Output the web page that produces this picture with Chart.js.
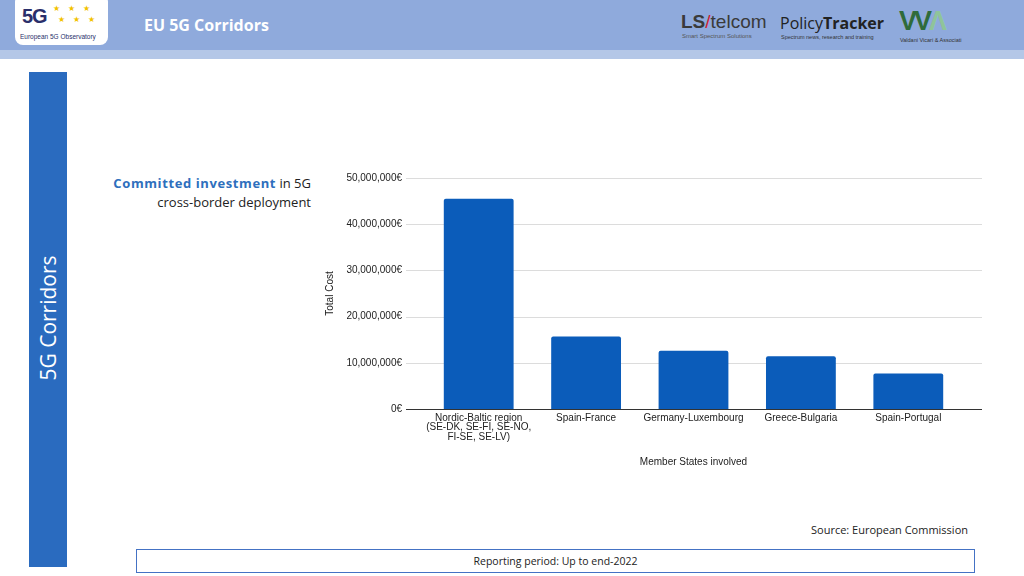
<!DOCTYPE html>
<html>
<head>
<meta charset="utf-8">
<script src="https://cdn.jsdelivr.net/npm/chart.js@4/dist/chart.umd.min.js"></script>
<style>
  body { margin: 0; width: 1024px; height: 576px; position: relative; overflow: hidden; background: #fff; font-family: "Open Sans", "Liberation Sans", sans-serif; }
  .abs { position: absolute; }
  #header { left: 0; top: 0; width: 1024px; height: 50px; background: #8faadc; }
  #strip { left: 0; top: 50px; width: 1024px; height: 9px; background: #b4c7e7; }
  #logo { left: 15px; top: -6px; width: 93px; height: 51px; background: #fff; border-radius: 8px; }
  #logo .g5 { position: absolute; left: 7px; top: 11px; font: bold 20px "Liberation Sans", sans-serif; color: #2a2f6b; letter-spacing: -1px; }
  #logo .stars { position: absolute; left: 38px; top: 8px; font-size: 8px; color: #f2c200; letter-spacing: 3px; }
  #logo .sub { position: absolute; left: 5px; top: 39px; font: 6.5px "Liberation Sans", sans-serif; color: #2a2f6b; white-space: nowrap; }
  #title { left: 144px; top: 14px; color: #fff; font: bold 16px "Open Sans", sans-serif; }
  .lg { color: #333; white-space: nowrap; }
  #side { left: 29px; top: 72px; width: 38px; height: 495px; background: #2a6bbf; }
  #sidetext { left: 48px; top: 318px; transform: translate(-50%, -50%) rotate(-90deg); color: #fff; font: 21px "Open Sans", sans-serif; white-space: nowrap; }
  #caption { right: 713px; top: 174px; text-align: right; font: 13px "Open Sans", sans-serif; color: #222; line-height: 19px; white-space: nowrap; }
  #caption b { color: #2e6fbd; letter-spacing: 0.6px; }
  #source { right: 56px; top: 522px; font: 11px "Open Sans", sans-serif; color: #222; }
  #period { left: 136px; top: 549px; width: 837px; height: 22px; border: 1px solid #4472c4; text-align: center; font: 10.5px "Open Sans", sans-serif; line-height: 22px; color: #222; }
  #chartBox { left: 320px; top: 149px; width: 680px; height: 331px; }
</style>
</head>
<body>
<div class="abs" id="header"></div>
<div class="abs" id="strip"></div>
<div class="abs" id="logo">
  <div class="g5">5G</div>
  <div class="stars">★ ★ ★<br>&nbsp;★ ★ ★</div>
  <div class="sub">European 5G Observatory</div>
</div>
<div class="abs" id="title">EU 5G Corridors</div>

<div class="abs lg" style="left:681px;top:11px;font:bold 19px 'Liberation Sans',sans-serif;color:#3a3a3a;">LS<span style="color:#d02030;font-weight:normal;">/</span><span style="font-weight:normal;">telcom</span></div>
<div class="abs lg" style="left:682px;top:33px;font:6px 'Liberation Sans',sans-serif;color:#555;">Smart Spectrum Solutions</div>
<div class="abs lg" style="left:780px;top:12px;font:16px 'Open Sans',sans-serif;color:#222;">Policy<b>Tracker</b></div>
<div class="abs lg" style="left:781px;top:34px;font:5.5px 'Liberation Sans',sans-serif;color:#333;">Spectrum news, research and training</div>
<div class="abs lg" style="left:899px;top:6px;font:bold 27px 'Liberation Sans',sans-serif;color:#2f6b3a;letter-spacing:-3px;">VV<span style="color:#8fc49a;">Λ</span></div>
<div class="abs lg" style="left:900px;top:37px;font:5.5px 'Liberation Sans',sans-serif;color:#333;">Valdani Vicari &amp; Associati</div>

<div class="abs" id="side"></div>
<div class="abs" id="sidetext">5G Corridors</div>

<div class="abs" id="caption"><b>Committed investment</b> in 5G<br>cross-border deployment</div>

<div class="abs" id="chartBox"><canvas id="chart" width="680" height="331"></canvas></div>

<div class="abs" id="source">Source: European Commission</div>
<div class="abs" id="period">Reporting period: Up to end-2022</div>

<script>
// Corridor groups and committed cost (EUR)
const corridors = [
    ['Nordic-Baltic region', '(SE-DK, SE-FI, SE-NO,', 'FI-SE, SE-LV)'],
    'Spain-France',
    'Germany-Luxembourg',
    'Greece-Bulgaria',
    'Spain-Portugal'
];
const totalCost = [45500000, 15700000, 12600000, 11400000, 7700000];
const yTicks = [0, 10000000, 20000000, 30000000, 40000000, 50000000];

function euro(v) {
    return v.toLocaleString('en-US') + '€';
}

// horizontal grid lines that run a bit past the bars on both sides
const wideGrid = {
    id: 'wideGrid',
    beforeDatasetsDraw(chart) {
        const ctx = chart.ctx;
        const area = chart.chartArea;
        const y = chart.scales.y;
        ctx.save();
        y.ticks.forEach(t => {
            const py = Math.round(y.getPixelForValue(t.value)) + 0.5;
            ctx.strokeStyle = t.value === 0 ? '#333' : '#dcdcdc';
            ctx.lineWidth = 1;
            ctx.beginPath();
            ctx.moveTo(area.left - 19, py);
            ctx.lineTo(area.right + 20, py);
            ctx.stroke();
        });
        ctx.restore();
    }
};

const ctx = document.getElementById('chart').getContext('2d');
new Chart(ctx, {
    type: 'bar',
    data: {
        labels: corridors,
        datasets: [{
            label: 'Total Cost',
            data: totalCost,
            backgroundColor: '#0b5cba',
            borderRadius: { topLeft: 2, topRight: 2 },
            borderSkipped: 'bottom',
            barPercentage: 0.65,
            categoryPercentage: 1
        }]
    },
    options: {
        responsive: false,
        animation: false,
        layout: { padding: { top: 0, right: 38, bottom: 0, left: 0 } },
        plugins: {
            legend: { display: false },
            tooltip: { enabled: false }
        },
        scales: {
            x: {
                grid: { display: false, drawTicks: false },
                border: { display: false },
                ticks: {
                    color: '#222',
                    padding: 4,
                    maxRotation: 0,
                    autoSkip: false,
                    font: { family: 'Liberation Sans', size: 10, lineHeight: 0.95 }
                },
                title: {
                    display: true,
                    text: 'Member States involved',
                    color: '#222',
                    font: { family: 'Liberation Sans', size: 10 },
                    padding: { top: 2, bottom: 12 }
                },
                afterFit(scale) { scale.height = 71; }
            },
            y: {
                min: 0,
                max: 50000000,
                afterBuildTicks(scale) {
                    scale.ticks = yTicks.map(v => ({ value: v }));
                },
                grid: { display: false, drawTicks: false },
                border: { display: false },
                ticks: {
                    color: '#222',
                    padding: 23,
                    font: { family: 'Liberation Sans', size: 10 },
                    callback: v => euro(v)
                },
                title: {
                    display: true,
                    text: 'Total Cost',
                    color: '#222',
                    font: { family: 'Liberation Sans', size: 10 },
                    padding: { top: 4, bottom: 0 }
                },
                afterFit(scale) { scale.width = 105; }
            }
        }
    },
    plugins: [wideGrid]
});
</script>
</body>
</html>
